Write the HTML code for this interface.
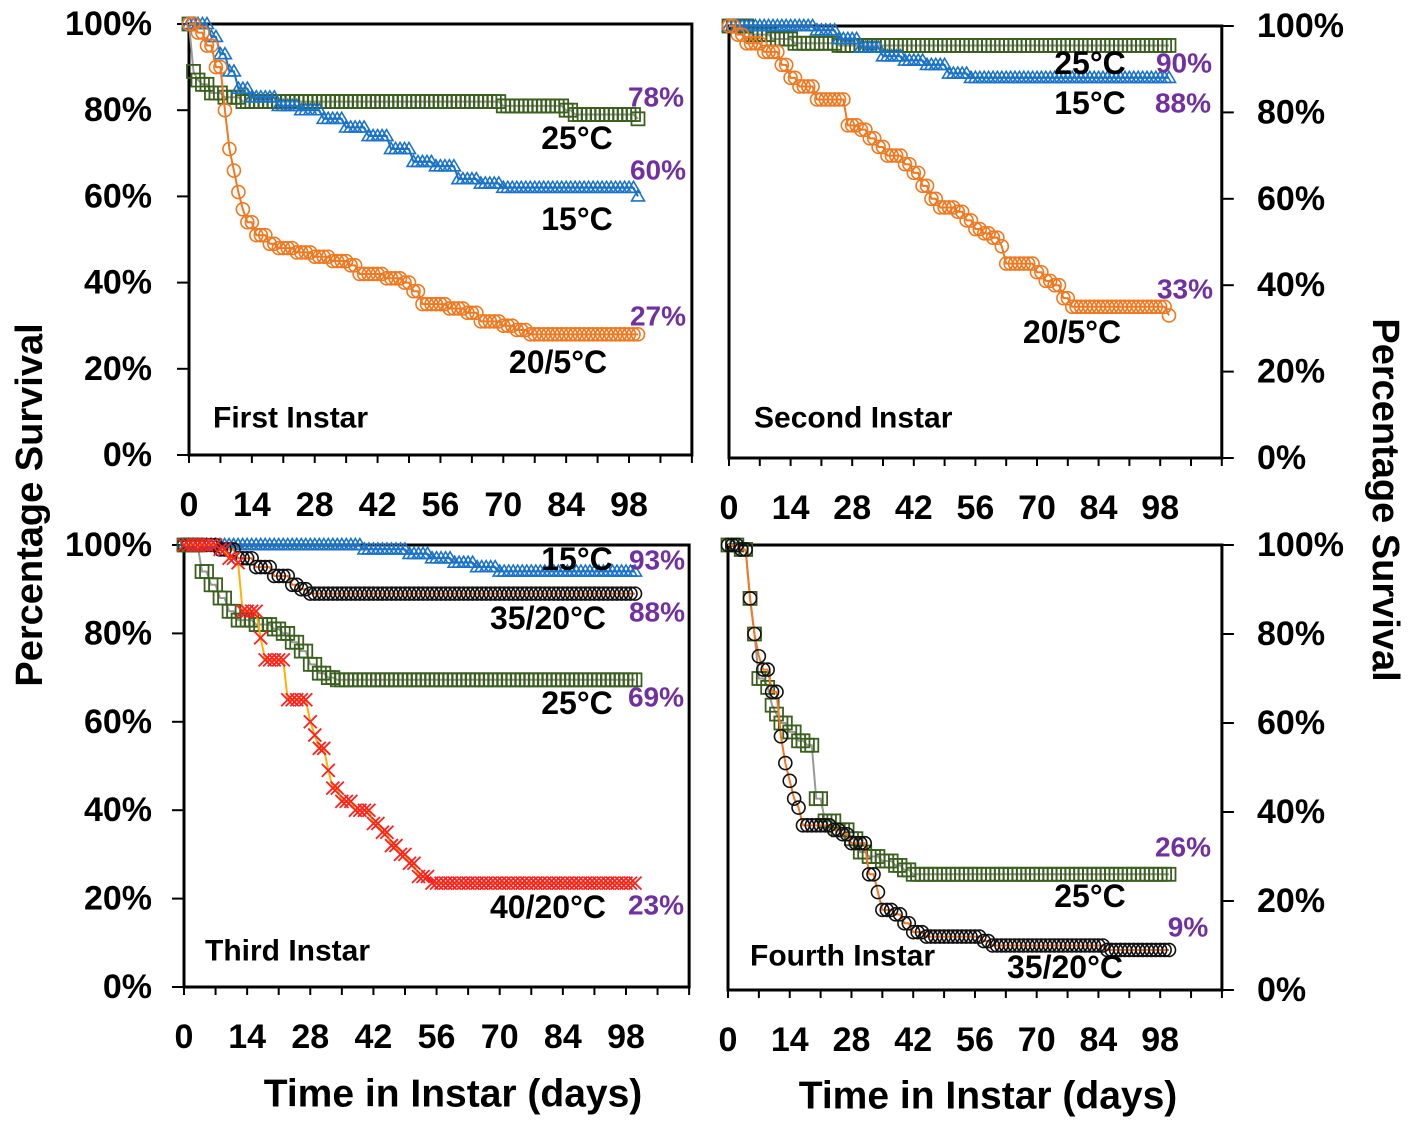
<!DOCTYPE html>
<html><head><meta charset="utf-8"><style>
html,body{margin:0;padding:0;background:#fff;}
svg{display:block;font-family:"Liberation Sans",sans-serif;font-weight:bold;}
</style></head><body>
<svg id="c" width="1417" height="1128" viewBox="0 0 1417 1128" xmlns="http://www.w3.org/2000/svg"></svg>
<script>
// ---- data (step knots: day, percent) ----
const xTicks = [0,14,28,42,56,70,84,98];
const yTicks = [0,20,40,60,80,100];
// Panel 1: First Instar
const p1_25_days=[0,1,2,3,5,8,12,70,84,86,100];
const p1_25_vals=[100,89,87,86,84,83,82,81,80,79,78];
const p1_15_days=[0,5,7,9,11,14,20,25,30,35,40,45,50,55,60,65,70,100];
const p1_15_vals=[100,97,93,89,85,83,81,80,78,76,74,71,68,67,64,63,62,60];
const p1_205_days=[0,2,4,6,8,9,10,11,12,13,15,18,20,24,28,32,36,38,44,48,50,52,58,62,65,70,73,76];
const p1_205_vals=[100,98,95,90,80,71,66,61,57,54,51,49,48,47,46,45,44,42,41,40,38,35,34,33,31,30,29,28];
// Panel 2: Second Instar
const p2_25_days=[0,5,10,15,25];
const p2_25_vals=[100,98,97,96,95.5];
const p2_15_days=[0,20,25,30,35,40,45,50,55];
const p2_15_vals=[100,99,97,95,93,92,91,89,88];
const p2_205_days=[0,2,4,8,12,14,16,20,27,30,32,34,36,40,42,44,46,48,52,54,56,58,60,62,63,70,72,74,76,78,100];
const p2_205_vals=[100,98,96,94,91,88,86,83,77,76,74,72,70,68,66,63,60,58,57,55,53,52,51,49,45,43,41,40,37,35,33];
// Panel 3: Third Instar
const p3_15_days=[0,35,40,50,55,60,65,70];
const p3_15_vals=[100,100,99,98,97,96,95,94];
const p3_3520_days=[0,8,12,16,20,24,26,28];
const p3_3520_vals=[100,99,97,95,93,91,90,89];
const p3_25_days=[0,4,6,8,10,12,16,20,22,24,26,28,30,32,34];
const p3_25_vals=[100,94,91,88,85,83,82,81,80,78,76,73,71,70,69.5];
const p3_4020_days=[0,8,10,12,13,17,18,23,28,29,30,32,33,35,38,42,44,46,48,50,52,55];
const p3_4020_vals=[100,99,97,96,85,79,74,65,60,57,54,49,45,42,40,37,35,32,30,28,25,23.5];
// Panel 4: Fourth Instar
const p4_25_days=[0,3,5,6,7,9,10,11,12,14,16,18,20,22,25,28,30,32,35,38,40,42];
const p4_25_vals=[100,99,88,80,70,68,64,62,60,58,56,55,43,38,36,34,31,30,29,28,27,26];
const p4_3520_days=[0,3,5,6,7,8,10,12,13,14,15,16,17,20,24,26,28,32,34,35,38,40,42,45,58,60,86];
const p4_3520_vals=[100,99,88,80,75,72,67,57,51,47,43,41,37,37,36,35,33,26,22,18,17,15,13,12,11,10,9];

const NS="http://www.w3.org/2000/svg";
const svg=document.getElementById('c');
function el(tag,attrs,parent){const e=document.createElementNS(NS,tag);for(const k in attrs)e.setAttribute(k,attrs[k]);(parent||svg).appendChild(e);return e;}
function txt(s,x,y,size,fill,anchor,parent){const t=el('text',{x:x,y:y,'font-size':size,fill:fill||'#000','text-anchor':anchor||'middle','dominant-baseline':'central'},parent);t.textContent=s;return t;}
function stepVal(days,vals,d){let v=vals[0];for(let i=0;i<days.length;i++){if(days[i]<=d)v=vals[i];}return v;}

const LS=32, PS=28, TS=30, NSZ=34;
function panel(cfg){
  const g=el('g',{});
  
  
  const X=d=>cfg.x0+d*cfg.px;
  const Y=v=>cfg.yb-(v/100)*(cfg.yb-cfg.yt);
  const right=X(112);
  const fr=el('path',{d:`M${cfg.x0} ${cfg.yt} H${right} V${cfg.yb} H${cfg.x0} Z`,fill:'none',stroke:'#000','stroke-width':3},g);
  
  for(let d=0;d<=112;d+=7){const t=el('line',{x1:X(d),x2:X(d),y1:cfg.yb,y2:cfg.yb+8,stroke:'#000','stroke-width':2},g);}
  xTicks.forEach(d=>{const t=txt(String(d),X(d),cfg.yb+50,NSZ,'#000','middle',g);});
  yTicks.forEach(v=>{
    const tx=cfg.yRight?right:cfg.x0;
    const t=el('line',{x1:tx,x2:cfg.yRight?tx+12:tx-12,y1:Y(v),y2:Y(v),stroke:'#000','stroke-width':2},g);
    
    if(cfg.yLabels){
      const l=cfg.yRight?txt(v+'%',1257,Y(v),NSZ,'#000','start',g):txt(v+'%',152,Y(v),NSZ,'#000','end',g);
      
    }
  });
  cfg.series.forEach(s=>{
    const sg=el('g',{},g);
    
    let pts=[];
    for(let d=0;d<=s.end;d++){pts.push([X(d),Y(stepVal(s.days,s.vals,d))]);}
    const ln=el('polyline',{points:pts.map(p=>p.join(',')).join(' '),fill:'none',stroke:s.line,'stroke-width':2},sg);
    
    pts.forEach(p=>{
      let m;const r=6.5;
      if(s.marker==='square')m=el('rect',{x:p[0]-r,y:p[1]-r,width:2*r,height:2*r,fill:'none',stroke:s.color,'stroke-width':1.8},sg);
      else if(s.marker==='circle')m=el('circle',{cx:p[0],cy:p[1],r:r,fill:'none',stroke:s.color,'stroke-width':1.6},sg);
      else if(s.marker==='triangle')m=el('path',{d:`M${p[0]} ${p[1]-r} L${p[0]+r} ${p[1]+r*0.7} L${p[0]-r} ${p[1]+r*0.7} Z`,fill:'none',stroke:s.color,'stroke-width':1.6},sg);
      else m=el('path',{d:`M${p[0]-r} ${p[1]-r} L${p[0]+r} ${p[1]+r} M${p[0]+r} ${p[1]-r} L${p[0]-r} ${p[1]+r}`,fill:'none',stroke:s.color,'stroke-width':1.8},sg);
      
    });
  });
  cfg.labels.forEach(l=>{const t=txt(l[0],l[1],l[2],l[3]||LS,l[4]||'#000',l[5]||'middle',g);});
}
const P='#7030a0';
panel({name:'first-instar-panel',x0:189,px:4.49,yt:24,yb:455,yLabels:true,series:[
 {name:'series-25c',days:p1_25_days,vals:p1_25_vals,end:100,marker:'square',color:'#3a5f1e',line:'#999'},
 {name:'series-15c',days:p1_15_days,vals:p1_15_vals,end:100,marker:'triangle',color:'#1a73c9',line:'#1a73c9'},
 {name:'series-20-5c',days:p1_205_days,vals:p1_205_vals,end:100,marker:'circle',color:'#f07820',line:'#f07820'}],
 labels:[['78%',656,97,PS,P],['25°C',577,138],['60%',658,170,PS,P],['15°C',577,219],['27%',658,316,PS,P],['20/5°C',558,362],['First Instar',213,418,TS,'#000','start','panel-title']]});
panel({name:'second-instar-panel',x0:729,px:4.40,yt:26,yb:458,yLabels:true,yRight:true,series:[
 {name:'series-25c',days:p2_25_days,vals:p2_25_vals,end:100,marker:'square',color:'#3a5f1e',line:'#999'},
 {name:'series-15c',days:p2_15_days,vals:p2_15_vals,end:100,marker:'triangle',color:'#1a73c9',line:'#1a73c9'},
 {name:'series-20-5c',days:p2_205_days,vals:p2_205_vals,end:100,marker:'circle',color:'#f07820',line:'#f07820'}],
 labels:[['25°C',1090,63],['90%',1184,63,PS,P],['15°C',1090,103],['88%',1183,103,PS,P],['33%',1185,289,PS,P],['20/5°C',1072,332],['Second Instar',754,418,TS,'#000','start','panel-title']]});
panel({name:'third-instar-panel',x0:184,px:4.51,yt:545,yb:987,yLabels:true,series:[
 {name:'series-15c',days:p3_15_days,vals:p3_15_vals,end:100,marker:'triangle',color:'#1a73c9',line:'#1a73c9'},
 {name:'series-35-20c',days:p3_3520_days,vals:p3_3520_vals,end:100,marker:'circle',color:'#111',line:'#f07820'},
 {name:'series-25c',days:p3_25_days,vals:p3_25_vals,end:100,marker:'square',color:'#3a5f1e',line:'#999'},
 {name:'series-40-20c',days:p3_4020_days,vals:p3_4020_vals,end:100,marker:'x',color:'#ff2020',line:'#ffb000'}],
 labels:[['15°C',577,559],['93%',657,560,PS,P],['35/20°C',548,618],['88%',657,612,PS,P],['25°C',577,703],['69%',656,697,PS,P],['40/20°C',548,907],['23%',656,905,PS,P],['Third Instar',205,951,TS,'#000','start','panel-title']]});
panel({name:'fourth-instar-panel',x0:728,px:4.41,yt:545,yb:990,yLabels:false,yRight:true,series:[
 {name:'series-25c',days:p4_25_days,vals:p4_25_vals,end:100,marker:'square',color:'#3a5f1e',line:'#999'},
 {name:'series-35-20c',days:p4_3520_days,vals:p4_3520_vals,end:100,marker:'circle',color:'#111',line:'#f07820'}],
 labels:[['26%',1183,847,PS,P],['25°C',1090,896],['9%',1188,927,PS,P],['35/20°C',1065,967],['Fourth Instar',750,956,TS,'#000','start','panel-title']]});
yTicks.forEach(v=>{const t=txt(v+'%',1257,990-v*4.45,NSZ,'#000','start');});
let t=txt('Percentage Survival',0,0,38);t.setAttribute('transform','translate(30,505) rotate(-90)');

t=txt('Percentage Survival',0,0,38);t.setAttribute('transform','translate(1385,500) rotate(90)');

t=txt('Time in Instar (days)',453,1094,39);

t=txt('Time in Instar (days)',988,1096,39);

</script>
</body></html>
